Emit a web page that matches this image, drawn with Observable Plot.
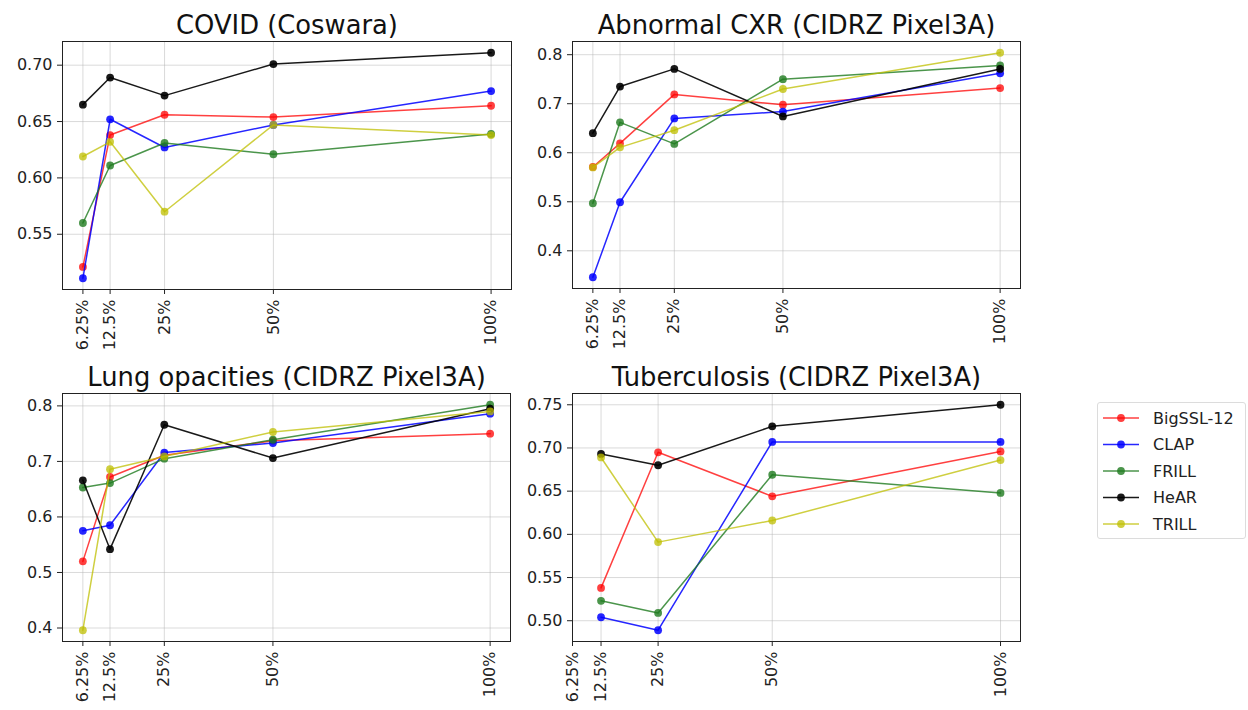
<!DOCTYPE html>
<html>
<head>
<meta charset="utf-8">
<script src="https://cdn.jsdelivr.net/npm/d3@7"></script>
<script src="https://cdn.jsdelivr.net/npm/@observablehq/plot@0.6"></script>
<style>
  html, body { margin: 0; padding: 0; background: #fff; }
  #root { position: relative; width: 1248px; height: 710px; font-family: "DejaVu Sans", sans-serif; }
  .panel { position: absolute; }
  #legend { position: absolute; left: 1097px; top: 402px; width: 147px; height: 135px;
            border: 1px solid #dcdcdc; border-radius: 3px; background: #fff; }
</style>
</head>
<body>
<div id="root"></div>
<script>
// ---- data ----
const fractions = [6.25, 12.5, 25, 50, 100];
const tbFractions = [12.5, 25, 50, 100];
const xTickValues = [6.25, 12.5, 25, 50, 100];
const models = ["BigSSL-12", "CLAP", "FRILL", "HeAR", "TRILL"];

const covidValues = [
  [0.521, 0.638, 0.656, 0.654, 0.664], // BigSSL-12
  [0.511, 0.652, 0.627, 0.647, 0.677], // CLAP
  [0.560, 0.611, 0.631, 0.621, 0.639], // FRILL
  [0.665, 0.689, 0.673, 0.701, 0.711], // HeAR
  [0.619, 0.632, 0.570, 0.647, 0.638]  // TRILL
];
const cxrValues = [
  [0.571, 0.619, 0.719, 0.698, 0.732],
  [0.346, 0.499, 0.670, 0.684, 0.762],
  [0.497, 0.662, 0.618, 0.750, 0.778],
  [0.640, 0.735, 0.771, 0.674, 0.771],
  [0.570, 0.611, 0.646, 0.730, 0.804]
];
const lungValues = [
  [0.520, 0.672, 0.711, 0.737, 0.750],
  [0.575, 0.585, 0.716, 0.733, 0.786],
  [0.653, 0.661, 0.705, 0.739, 0.802],
  [0.666, 0.542, 0.766, 0.706, 0.795],
  [0.396, 0.686, 0.709, 0.753, 0.790]
];
const tbValues = [
  [0.538, 0.695, 0.644, 0.696],
  [0.504, 0.489, 0.707, 0.707],
  [0.523, 0.509, 0.669, 0.648],
  [0.693, 0.680, 0.725, 0.750],
  [0.689, 0.591, 0.616, 0.686]
];
const covidYTicks = [0.55, 0.60, 0.65, 0.70];
const cxrYTicks = [0.4, 0.5, 0.6, 0.7, 0.8];
const lungYTicks = [0.4, 0.5, 0.6, 0.7, 0.8];
const tbYTicks = [0.50, 0.55, 0.60, 0.65, 0.70, 0.75];

// ---- styles ----
const colors = ["#ff0000", "#0000ff", "#1e7a1e", "#000000", "#bfbf00"];
const opac = [0.75, 0.85, 0.8, 0.9, 0.75];

const root = document.getElementById("root");

function mplDomain(vals, extra = []) {
  const lo = d3.min(vals), hi = d3.max(vals), m = (hi - lo) * 0.05;
  return [Math.min(lo - m, ...extra), Math.max(hi + m, ...extra)];
}

function panel(cfg) {
  const data = [];
  cfg.values.forEach((row, i) => row.forEach((v, j) => data.push({model: models[i], i, x: cfg.xs[j], y: v})));
  const xDom = mplDomain(cfg.xs, xTickValues);
  const yDom = mplDomain(data.map(d => d.y));
  const marks = [
    Plot.gridX(xTickValues, {stroke: "#b0b0b0", strokeOpacity: 0.6, strokeWidth: 0.8}),
    Plot.gridY(cfg.yTicks, {stroke: "#b0b0b0", strokeOpacity: 0.6, strokeWidth: 0.8}),
  ];
  models.forEach((m, i) => {
    const sub = data.filter(d => d.i === i);
    marks.push(Plot.line(sub, {x: "x", y: "y", stroke: colors[i], strokeOpacity: opac[i], strokeWidth: 1.5}));
    marks.push(Plot.dot(sub, {x: "x", y: "y", fill: colors[i], fillOpacity: opac[i], r: 3.9, stroke: "none"}));
  });
  marks.push(
    Plot.frame({stroke: "#222", strokeWidth: 1}),
    Plot.axisY(cfg.yTicks, {label: null, tickFormat: d3.format(cfg.yFmt), tickSize: 5, tickPadding: 5, fontSize: 16, fill: "#222", stroke: "#222"}),
    Plot.axisX(xTickValues, {label: null, tickFormat: d => d + "%", tickRotate: -90, tickSize: 5, tickPadding: 5, fontSize: 16, fill: "#222", stroke: "#222"}),
    Plot.text([cfg.title], {frameAnchor: "top", dy: -8, lineAnchor: "bottom", textAnchor: "middle", fontSize: 25.8, fill: "#111"})
  );
  const chart = Plot.plot({
    width: cfg.w, height: cfg.h,
    marginLeft: cfg.ml, marginRight: cfg.mr, marginTop: cfg.mt, marginBottom: cfg.mb,
    x: {type: "linear", domain: xDom, axis: null, label: null},
    y: {type: "linear", domain: yDom, axis: null, label: null},
    style: {fontFamily: "DejaVu Sans", fontSize: "16px", background: "transparent", overflow: "visible"},
    marks
  });
  const div = document.createElement("div");
  div.className = "panel";
  div.style.left = cfg.left + "px";
  div.style.top = cfg.top + "px";
  div.appendChild(chart);
  root.appendChild(div);
}

panel({title: "COVID (Coswara)", xs: fractions, values: covidValues, yTicks: covidYTicks, yFmt: ".2f",
       left: 0, top: 0, w: 520, h: 350, ml: 62, mr: 9, mt: 41, mb: 61});
panel({title: "Abnormal CXR (CIDRZ Pixel3A)", xs: fractions, values: cxrValues, yTicks: cxrYTicks, yFmt: ".1f",
       left: 520, top: 0, w: 520, h: 350, ml: 52, mr: 20, mt: 41, mb: 62});
panel({title: "Lung opacities (CIDRZ Pixel3A)", xs: fractions, values: lungValues, yTicks: lungYTicks, yFmt: ".1f",
       left: 0, top: 350, w: 520, h: 360, ml: 62, mr: 10, mt: 43, mb: 69});
panel({title: "Tuberculosis (CIDRZ Pixel3A)", xs: tbFractions, values: tbValues, yTicks: tbYTicks, yFmt: ".2f",
       left: 520, top: 350, w: 520, h: 360, ml: 52, mr: 20, mt: 43, mb: 69});

// ---- legend ----
const leg = document.createElement("div");
leg.id = "legend";
root.appendChild(leg);
const svg = d3.select(leg).append("svg").attr("width", 147).attr("height", 135);
models.forEach((m, i) => {
  const y = 15 + i * 26.5;
  const g = svg.append("g").attr("transform", `translate(0,${y})`);
  g.append("line").attr("x1", 5).attr("x2", 41).attr("y1", 0).attr("y2", 0)
    .attr("stroke", colors[i]).attr("stroke-opacity", opac[i]).attr("stroke-width", 1.5);
  g.append("circle").attr("cx", 23).attr("cy", 0).attr("r", 3.9)
    .attr("fill", colors[i]).attr("fill-opacity", opac[i]);
  g.append("text").attr("x", 55).attr("y", 0).attr("dy", "0.35em")
    .attr("font-family", "DejaVu Sans").attr("font-size", 16).attr("fill", "#222").text(m);
});
</script>
</body>
</html>
